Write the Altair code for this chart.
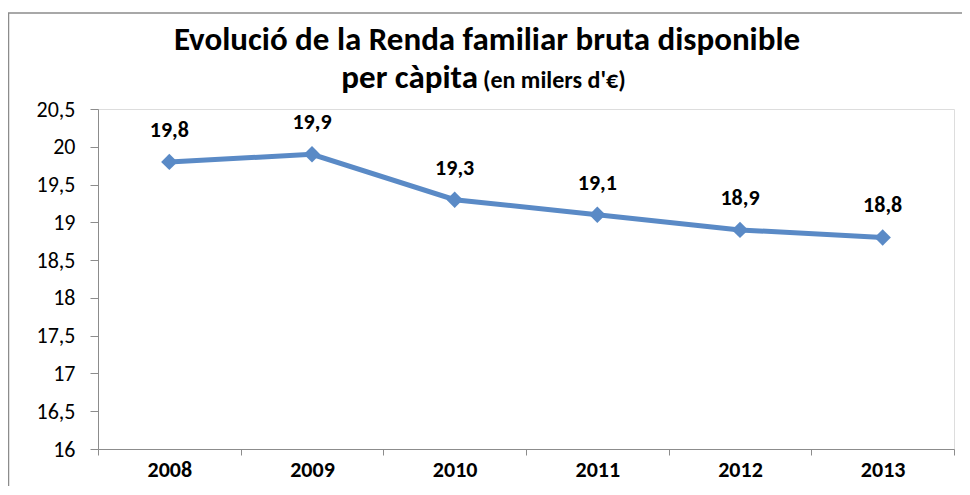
import altair as alt
import pandas as pd

years = ["2008", "2009", "2010", "2011", "2012", "2013"]
values = [19.8, 19.9, 19.3, 19.1, 18.9, 18.8]
labels = ["19,8", "19,9", "19,3", "19,1", "18,9", "18,8"]
y_ticks = [16, 16.5, 17, 17.5, 18, 18.5, 19, 19.5, 20, 20.5]

title_line1 = "Evolució de la Renda familiar bruta disponible"
title_line2a = "per càpita"
title_line2b = "(en milers d'€)"

FONT = "Carlito, Lato, sans-serif"
BLUE = "#5A8AC6"
GRAY = "#8c8c8c"
W, H = 856, 340

df = pd.DataFrame({"year": years, "value": values, "label": labels})
one = pd.DataFrame({"k": [0]})

x = alt.X(
    "year:N",
    sort=years,
    bandPosition=0.5,
    scale=alt.Scale(type="band", paddingInner=0, paddingOuter=0),
    axis=alt.Axis(
        title=None, tickBand="extent", labelAngle=0, labelFont=FONT,
        labelFontWeight="bold", labelFontSize=22, labelColor="#000",
        domainColor=GRAY, tickColor=GRAY, tickSize=6, labelPadding=4,
        grid=False,
    ),
)
y = alt.Y(
    "value:Q",
    scale=alt.Scale(domain=[16, 20.5], nice=False, zero=False),
    axis=alt.Axis(
        title=None, values=y_ticks,
        labelExpr="replace(toString(datum.value), '.', ',')",
        labelFont=FONT, labelFontSize=22, labelColor="#000",
        domainColor=GRAY, tickColor=GRAY, tickSize=8, labelPadding=15,
        grid=False,
    ),
)

base = alt.Chart(df)
line = base.mark_line(color=BLUE, strokeWidth=5).encode(x=x, y=y)
pts = base.mark_point(shape="diamond", filled=True, color=BLUE, size=270, opacity=1).encode(x=x, y=y)
txt = base.mark_text(font=FONT, fontSize=22, fontWeight="bold", color="#000",
                     baseline="alphabetic", dy=-25).encode(x=x, y=y, text="label:N")

frame = alt.Chart(one).mark_rect(fill=None, stroke=GRAY, strokeWidth=1.5).encode(
    x=alt.value(-89.5), x2=alt.value(W + 200), y=alt.value(-96), y2=alt.value(H + 200)
)
t1 = alt.Chart(one).mark_text(font=FONT, fontSize=33, fontWeight="bold", color="#000",
                              align="center", baseline="alphabetic").encode(
    x=alt.value(389), y=alt.value(-59), text=alt.value(title_line1))
t2 = alt.Chart(one).mark_text(font=FONT, fontSize=33, fontWeight="bold", color="#000",
                              align="right", baseline="alphabetic").encode(
    x=alt.value(380), y=alt.value(-21), text=alt.value(title_line2a))
t3 = alt.Chart(one).mark_text(font=FONT, fontSize=24, fontWeight="bold", color="#000",
                              align="left", baseline="alphabetic").encode(
    x=alt.value(385), y=alt.value(-21), text=alt.value(title_line2b))

chart = alt.layer(frame, line, pts, txt, t1, t2, t3).properties(
    width=W, height=H,
    autosize=alt.AutoSizeParams(type="none"),
    padding={"left": 90, "top": 101, "right": 8, "bottom": 37},
).configure_view(strokeWidth=0).configure(background="white")

chart.save("out.html", embed_options={"renderer": "svg", "actions": False})
